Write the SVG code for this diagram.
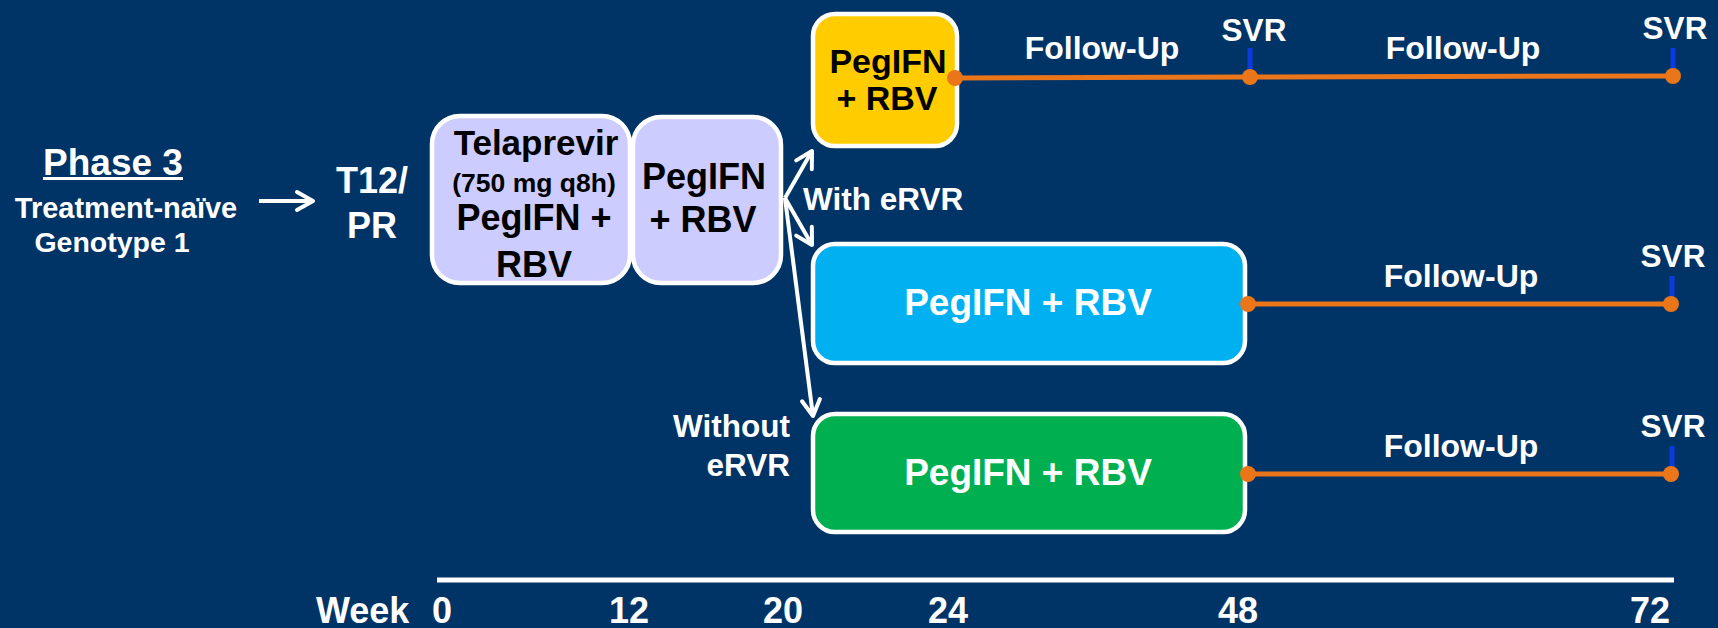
<svg xmlns="http://www.w3.org/2000/svg" width="1718" height="628" viewBox="0 0 1718 628">
<defs>
<style>
text{font-family:"Liberation Sans",Arial,sans-serif;font-weight:bold;}
.w{fill:#ffffff;}
.k{fill:#000000;}
.mid{text-anchor:middle;}
.box{stroke:#ffffff;stroke-width:4.5;}
.fu{stroke:#eb7619;stroke-width:5;fill:none;}
.dot{fill:#eb7619;}
.tick{stroke:#0a3be0;stroke-width:5;}
.arr{stroke:#ffffff;stroke-width:4;fill:none;marker-end:url(#chev);}
</style>
<marker id="chev" markerUnits="userSpaceOnUse" markerWidth="30" markerHeight="30" viewBox="-20 -15 30 30" refX="0" refY="0" orient="auto" overflow="visible">
<path d="M -16 -9 L 0 0 L -16 9" fill="none" stroke="#ffffff" stroke-width="4" stroke-linecap="round" stroke-linejoin="round"/>
</marker>
</defs>
<rect x="0" y="0" width="1718" height="628" fill="#003366"/>

<g id="title">
<text class="w mid" x="113" y="175" font-size="37">Phase 3</text>
<line x1="43" y1="178.5" x2="183" y2="178.5" stroke="#ffffff" stroke-width="3"/>
<text class="w mid" x="126" y="218" font-size="29">Treatment-naïve</text>
<text class="w mid" x="112" y="252" font-size="28.5">Genotype 1</text>
</g>

<g id="t12pr">
<text class="w mid" x="372" y="193" font-size="36">T12/</text>
<text class="w mid" x="372" y="238" font-size="36">PR</text>
</g>

<g id="box-telaprevir">
<rect class="box" x="432" y="116" width="198" height="167" rx="28" fill="#ccccff"/>
<text class="k mid" x="536" y="155" font-size="35">Telaprevir</text>
<text class="k mid" x="534" y="192" font-size="26.5">(750 mg q8h)</text>
<text class="k mid" x="534" y="230" font-size="36">PegIFN +</text>
<text class="k mid" x="534" y="277" font-size="36">RBV</text>
</g>

<g id="box-pr20">
<rect class="box" x="633" y="117" width="148" height="166" rx="28" fill="#ccccff"/>
<text class="k mid" x="704" y="189" font-size="36">PegIFN</text>
<text class="k mid" x="703" y="232" font-size="36">+ RBV</text>
</g>

<g id="box-yellow">
<rect class="box" x="813" y="14" width="144" height="132" rx="22" fill="#ffcc00"/>
<text class="k mid" x="888" y="73" font-size="34">PegIFN</text>
<text class="k mid" x="887" y="110" font-size="34">+ RBV</text>
</g>

<g id="box-blue">
<rect class="box" x="813" y="244" width="432" height="119" rx="22" fill="#00b0f0"/>
<text class="w mid" x="1028" y="315" font-size="37">PegIFN + RBV</text>
</g>

<g id="box-green">
<rect class="box" x="813" y="414" width="432" height="118" rx="22" fill="#00b050"/>
<text class="w mid" x="1028" y="485" font-size="37">PegIFN + RBV</text>
</g>

<g id="labels">
<text class="w" x="803" y="210" font-size="31.5">With eRVR</text>
<text class="w" x="790" y="437" font-size="31.5" text-anchor="end">Without</text>
<text class="w" x="790" y="476" font-size="31.5" text-anchor="end">eRVR</text>
</g>

<g id="connectors">
<line class="arr" x1="259" y1="201" x2="313" y2="201" stroke-width="4.5"/>
<line class="arr" x1="785" y1="198" x2="812" y2="151"/>
<line class="arr" x1="785" y1="198" x2="812" y2="245"/>
<line class="arr" x1="785" y1="198" x2="813" y2="416"/>
</g>

<g id="followup-row1">
<line class="tick" x1="1250" y1="48" x2="1250" y2="77"/>
<line class="tick" x1="1673" y1="48" x2="1673" y2="76"/>
<line class="fu" x1="955" y1="78" x2="1250" y2="77"/>
<line class="fu" x1="1250" y1="77" x2="1673" y2="76"/>
<circle class="dot" cx="955" cy="78" r="8"/>
<circle class="dot" cx="1250" cy="77" r="8"/>
<circle class="dot" cx="1673" cy="76" r="8"/>
<text class="w mid" x="1102" y="59" font-size="32">Follow-Up</text>
<text class="w mid" x="1463" y="59" font-size="32">Follow-Up</text>
<text class="w mid" x="1254" y="41" font-size="31.5">SVR</text>
<text class="w mid" x="1675" y="39" font-size="31.5">SVR</text>
</g>

<g id="followup-row2">
<line class="tick" x1="1672" y1="276" x2="1672" y2="304"/>
<line class="fu" x1="1248" y1="304" x2="1671" y2="304"/>
<circle class="dot" cx="1248" cy="304" r="8"/>
<circle class="dot" cx="1671" cy="304" r="8"/>
<text class="w mid" x="1461" y="287" font-size="32">Follow-Up</text>
<text class="w mid" x="1673" y="267" font-size="31.5">SVR</text>
</g>

<g id="followup-row3">
<line class="tick" x1="1672" y1="446" x2="1672" y2="474"/>
<line class="fu" x1="1248" y1="474" x2="1671" y2="474"/>
<circle class="dot" cx="1248" cy="474" r="8"/>
<circle class="dot" cx="1671" cy="474" r="8"/>
<text class="w mid" x="1461" y="457" font-size="32">Follow-Up</text>
<text class="w mid" x="1673" y="437" font-size="31.5">SVR</text>
</g>

<g id="axis">
<line x1="437" y1="580" x2="1674" y2="580" stroke="#ffffff" stroke-width="5"/>
<text class="w" x="316" y="623" font-size="36">Week</text>
<text class="w mid" x="442" y="623" font-size="36">0</text>
<text class="w mid" x="629" y="623" font-size="36">12</text>
<text class="w mid" x="783" y="623" font-size="36">20</text>
<text class="w mid" x="948" y="623" font-size="36">24</text>
<text class="w mid" x="1238" y="623" font-size="36">48</text>
<text class="w mid" x="1650" y="623" font-size="36">72</text>
</g>
</svg>
